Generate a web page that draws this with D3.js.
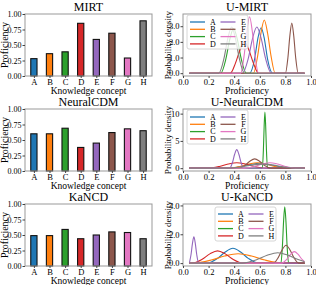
<!DOCTYPE html>
<meta charset="utf-8">
<style>
body { margin: 0; background: #fff; }
svg text { font-family: "Liberation Serif", "DejaVu Serif", serif; fill: #000; }
.frame { fill: none; stroke: #999; stroke-width: 1; }
.tick line { stroke: #444; }
</style>
<body>
<div id="chart"></div>
<script src="https://d3js.org/d3.v7.min.js"></script>
<script>

// knowledge concepts and colours
var concepts = ["A", "B", "C", "D", "E", "F", "G", "H"];
var colors = ["#1f77b4", "#ff7f0e", "#2ca02c", "#d62728", "#9467bd", "#8c564b", "#e377c2", "#7f7f7f"];

// proficiency bars
var mirt      = [0.28, 0.36, 0.39, 0.85, 0.59, 0.69, 0.29, 0.89];
var neuralcdm = [0.60, 0.60, 0.69, 0.38, 0.45, 0.62, 0.68, 0.65];
var kancd     = [0.49, 0.49, 0.59, 0.44, 0.50, 0.55, 0.54, 0.44];

// density curves, points [proficiency, density]
var uMirt = [
  [[0.05,0],[0.52,0],[0.56,0.93],[0.584,2.18],[0.61,2.9],[0.636,2.18],[0.66,0.93],[0.70,0],[0.95,0]],
  [[0.05,0],[0.55,0],[0.583,1.09],[0.609,2.55],[0.635,3.4],[0.661,2.55],[0.688,1.09],[0.72,0],[0.95,0]],
  [[0.05,0],[0.295,0],[0.335,0.91],[0.365,2.14],[0.395,2.85],[0.425,2.14],[0.455,0.91],[0.495,0],[0.95,0]],
  [[0.05,0],[0.37,0],[0.41,0.64],[0.446,1.5],[0.48,2.0],[0.514,1.5],[0.55,0.64],[0.59,0],[0.95,0]],
  [[0.05,0],[0.465,0],[0.51,0.94],[0.543,2.21],[0.577,2.95],[0.611,2.21],[0.645,0.94],[0.69,0],[0.95,0]],
  [[0.05,0],[0.80,0],[0.82,1.02],[0.835,2.4],[0.85,3.2],[0.865,2.4],[0.88,1.02],[0.90,0],[0.95,0]],
  [[0.05,0],[0.45,0],[0.478,1.15],[0.499,2.7],[0.52,3.6],[0.541,2.7],[0.562,1.15],[0.59,0],[0.95,0]],
  [[0.05,0],[0.28,0],[0.32,0.94],[0.35,2.21],[0.38,2.95],[0.41,2.21],[0.44,0.94],[0.48,0],[0.95,0]]
];
var uNeural = [
  [[0.05,0],[0.35,0],[0.45,0.29],[0.525,0.68],[0.60,0.9],[0.675,0.68],[0.75,0.29],[0.85,0],[0.95,0]],
  [[0.05,0],[0.355,0],[0.445,0.32],[0.513,0.75],[0.58,1.0],[0.648,0.75],[0.715,0.32],[0.805,0],[0.95,0]],
  [[0.05,0],[0.62,0],[0.628,3.3],[0.634,7.7],[0.64,10.3],[0.646,7.7],[0.652,3.3],[0.66,0],[0.95,0]],
  [[0.05,0],[0.195,0],[0.285,0.32],[0.353,0.75],[0.42,1.0],[0.488,0.75],[0.555,0.32],[0.645,0],[0.95,0]],
  [[0.05,0],[0.365,0],[0.387,1.09],[0.4035,2.55],[0.42,3.4],[0.4365,2.55],[0.453,1.09],[0.475,0],[0.95,0]],
  [[0.05,0],[0.435,0],[0.485,0.54],[0.5225,1.28],[0.56,1.7],[0.5975,1.28],[0.635,0.54],[0.685,0],[0.95,0]],
  [[0.05,0],[0.48,0],[0.56,0.32],[0.62,0.75],[0.68,1.0],[0.74,0.75],[0.80,0.32],[0.88,0],[0.95,0]],
  [[0.05,0],[0.345,0],[0.455,0.24],[0.5375,0.56],[0.62,0.75],[0.7025,0.56],[0.785,0.24],[0.895,0],[0.95,0]]
];
var uKancd = [
  [[0.05,0],[0.19,0],[0.27,0.33],[0.33,0.77],[0.39,1.03],[0.45,0.77],[0.51,0.33],[0.59,0],[0.95,0]],
  [[0.05,0],[0.08,0],[0.22,0.21],[0.325,0.49],[0.43,0.65],[0.535,0.49],[0.64,0.21],[0.78,0],[0.95,0]],
  [[0.05,0],[0.765,0],[0.777,1.25],[0.786,2.93],[0.795,3.9],[0.804,2.93],[0.813,1.25],[0.825,0],[0.95,0]],
  [[0.05,0],[0.07,0],[0.15,0.27],[0.21,0.64],[0.27,0.85],[0.33,0.64],[0.39,0.27],[0.47,0],[0.95,0]],
  [[0.05,0.02],[0.0625,0.58],[0.074,1.37],[0.085,1.82],[0.096,1.37],[0.1075,0.58],[0.1225,0],[0.95,0]],
  [[0.05,0],[0.705,0],[0.745,0.4],[0.775,0.93],[0.805,1.24],[0.835,0.93],[0.865,0.4],[0.905,0],[0.95,0]],
  [[0.05,0],[0.77,0],[0.81,0.26],[0.84,0.6],[0.87,0.8],[0.90,0.6],[0.93,0.26],[0.95,0.1]],
  [[0.05,0],[0.465,0],[0.575,0.23],[0.6575,0.54],[0.74,0.72],[0.8225,0.54],[0.905,0.23],[0.95,0.1]]
];

var barPanels = [
  {title: "MIRT", values: mirt, top: 14},
  {title: "NeuralCDM", values: neuralcdm, top: 109},
  {title: "KaNCD", values: kancd, top: 204}
];
var densPanels = [
  {title: "U-MIRT", curves: uMirt, top: 14, ydom: [-0.18, 3.78], yticks: [0, 1, 2, 3], leg: [187, 15]},
  {title: "U-NeuralCDM", curves: uNeural, top: 109, ydom: [-0.52, 10.85], yticks: [0, 5, 10], leg: [187, 110]},
  {title: "U-KaNCD", curves: uKancd, top: 204, ydom: [-0.2, 4.1], yticks: [0, 2, 4], leg: [215, 207]}
];

var panelH = 62;

var svg = d3.select("#chart").append("svg")
    .attr("width", 316)
    .attr("height", 285);

// axis groups carry their own sans font attrs, drop them so the serif CSS applies
function plain(a){
  a.attr("font-family", null).attr("font-size", null);
  a.select(".domain").remove();
}

// ---- bar charts (left column)
var bx0 = 25, bx1 = 152;
var xb = d3.scaleLinear().domain([-0.57, 7.57]).range([bx0, bx1]);

barPanels.forEach(function(p){
  var y = d3.scaleLinear().domain([0, 1]).range([p.top + panelH, p.top]);
  var g = svg.append("g");

  g.selectAll(".bar")
    .data(p.values)
    .enter().append("rect")
    .attr("x", (d, i) => xb(i - 0.2))
    .attr("width", xb(0.2) - xb(-0.2))
    .attr("y", d => y(d))
    .attr("height", d => y(0) - y(d))
    .attr("fill", (d, i) => colors[i])
    .attr("stroke", "#111")
    .attr("stroke-width", 1.1);

  g.append("rect").attr("class", "frame")
    .attr("x", bx0).attr("y", p.top).attr("width", bx1 - bx0).attr("height", panelH);

  g.append("g")
    .attr("transform", "translate(" + bx0 + ",0)")
    .call(d3.axisLeft(y).tickValues([0, 0.25, 0.5, 0.75, 1]).tickFormat(d3.format(".2f")).tickSize(2.5).tickPadding(1))
    .call(plain)
    .selectAll("text").style("font-size", "8px");

  g.append("g")
    .attr("transform", "translate(0," + (p.top + panelH) + ")")
    .call(d3.axisBottom(xb).tickValues(d3.range(8)).tickFormat(i => concepts[i]).tickSize(2).tickPadding(0.5))
    .call(plain)
    .selectAll("text").style("font-size", "8.5px");

  g.append("text")
    .attr("x", (bx0 + bx1) / 2).attr("y", p.top - 3)
    .attr("text-anchor", "middle").style("font-size", "12px")
    .text(p.title);
  g.append("text")
    .attr("x", (bx0 + bx1) / 2).attr("y", p.top + panelH + 17.5)
    .attr("text-anchor", "middle").style("font-size", "9.5px")
    .text("Knowledge concept");
  g.append("text")
    .attr("transform", "translate(8," + (p.top + panelH / 2) + ") rotate(-90)")
    .attr("text-anchor", "middle").style("font-size", "10px")
    .text("Proficiency");
});

// ---- density charts (right column)
var dx0 = 183, dx1 = 311;
var xd = d3.scaleLinear().domain([0, 1]).range([dx0, dx1]);

densPanels.forEach(function(p){
  var y = d3.scaleLinear().domain(p.ydom).range([p.top + panelH, p.top]);
  var g = svg.append("g");
  var line = d3.line()
    .x(d => xd(d[0]))
    .y(d => y(d[1]))
    .curve(d3.curveMonotoneX);

  g.selectAll(".curve")
    .data(p.curves)
    .enter().append("path")
    .attr("d", line)
    .attr("fill", "none")
    .attr("stroke", (d, i) => colors[i])
    .attr("stroke-width", 1.1);

  g.append("rect").attr("class", "frame")
    .attr("x", dx0).attr("y", p.top).attr("width", dx1 - dx0).attr("height", panelH);

  g.append("g")
    .attr("transform", "translate(" + dx0 + ",0)")
    .call(d3.axisLeft(y).tickValues(p.yticks).tickSize(2.5).tickPadding(1))
    .call(plain)
    .selectAll("text").style("font-size", "8.5px");

  g.append("g")
    .attr("transform", "translate(0," + (p.top + panelH) + ")")
    .call(d3.axisBottom(xd).tickValues([0, 0.2, 0.4, 0.6, 0.8, 1]).tickFormat(d3.format(".1f")).tickSize(2).tickPadding(0.5))
    .call(plain)
    .selectAll("text").style("font-size", "8.5px");

  g.append("text")
    .attr("x", (dx0 + dx1) / 2).attr("y", p.top - 3)
    .attr("text-anchor", "middle").style("font-size", "12px")
    .text(p.title);
  g.append("text")
    .attr("x", (dx0 + dx1) / 2).attr("y", p.top + panelH + 17.5)
    .attr("text-anchor", "middle").style("font-size", "9.5px")
    .text("Proficiency");
  g.append("text")
    .attr("transform", "translate(171," + (p.top + panelH / 2) + ") rotate(-90)")
    .attr("text-anchor", "middle").style("font-size", "9px")
    .text("Probability density");

  // legend, two columns
  var lg = g.append("g").attr("transform", "translate(" + p.leg[0] + "," + p.leg[1] + ")");
  lg.append("rect")
    .attr("width", 61).attr("height", 34).attr("rx", 2)
    .attr("fill", "#fff").attr("fill-opacity", 0.8)
    .attr("stroke", "#ccc").attr("stroke-width", 0.8);
  var items = lg.selectAll(".item")
    .data(concepts)
    .enter().append("g")
    .attr("transform", (d, i) => "translate(" + (Math.floor(i / 4) * 30.5) + "," + (7 + (i % 4) * 7.3) + ")");
  items.append("line")
    .attr("x1", 3).attr("x2", 18)
    .attr("stroke", (d, i) => colors[i]).attr("stroke-width", 1.3);
  items.append("text")
    .attr("x", 26).attr("dy", "0.33em")
    .attr("text-anchor", "middle").style("font-size", "8px")
    .text(d => d);
});

</script>
</body>
